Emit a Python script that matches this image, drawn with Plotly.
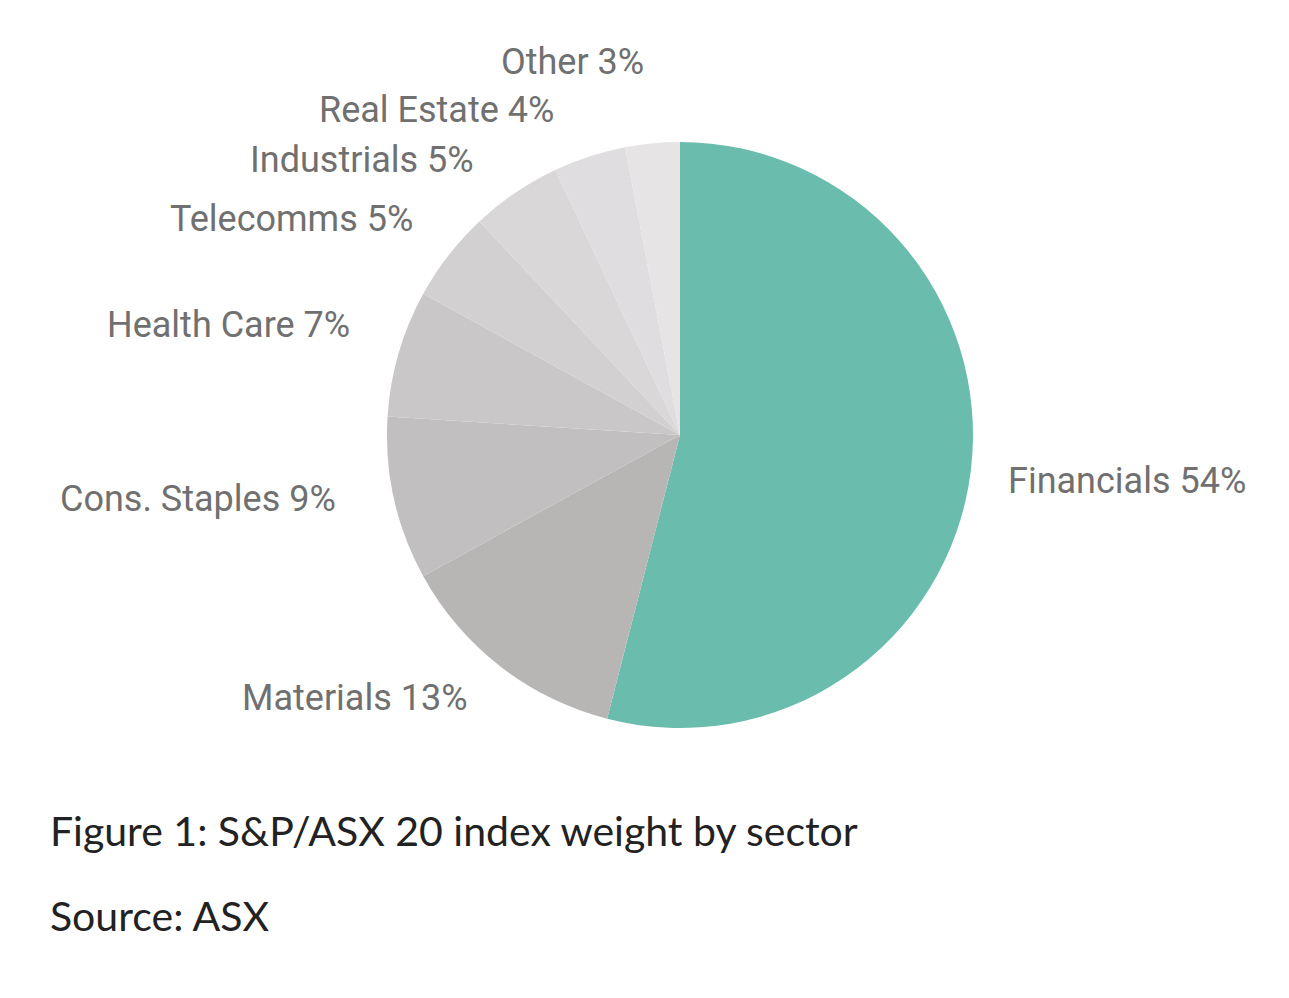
import plotly.graph_objects as go

sectors = ["Financials", "Materials", "Cons. Staples", "Health Care",
           "Telecomms", "Industrials", "Real Estate", "Other"]
weights = [54, 13, 9, 7, 5, 5, 4, 3]
colors = ["#6abcad", "#b8b5b5", "#c2bfc0", "#cac7c8",
          "#d2d0d1", "#d9d7d8", "#dfdddf", "#e6e4e5"]

caption = "Figure 1: S&P/ASX 20 index weight by sector"
source = "Source: ASX"

W, H = 1289, 998
OFF = 8  # page body margin in the browser
cx, cy, r = 680 - OFF, 435 - OFF, 293

# label anchor positions (pixels in the reference): x, y, anchor
label_pos = {
    "Financials": (1006, 481, "left"),
    "Materials": (470, 698, "right"),
    "Cons. Staples": (338, 499, "right"),
    "Health Care": (352, 325, "right"),
    "Telecomms": (415, 219, "right"),
    "Industrials": (476, 160, "right"),
    "Real Estate": (556, 110, "right"),
    "Other": (646, 62, "right"),
}

fig = go.Figure(go.Pie(
    labels=sectors, values=weights, sort=False, direction="clockwise",
    rotation=0, marker=dict(colors=colors, line=dict(width=0)),
    textinfo="none", hoverinfo="label+percent",
    domain=dict(x=[(cx - r) / W, (cx + r) / W], y=[1 - (cy + r) / H, 1 - (cy - r) / H]),
    showlegend=False,
))

for s, v in zip(sectors, weights):
    x, y, anchor = label_pos[s]
    fig.add_annotation(x=(x - OFF) / W, y=1 - (y - OFF) / H, xref="paper", yref="paper",
                       text=f"{s} {v}%", showarrow=False, xanchor=anchor,
                       yanchor="middle",
                       font=dict(family="Roboto", size=36, color="#707070"))

fig.add_annotation(x=(48 - OFF) / W, y=1 - (830 - OFF) / H, xref="paper", yref="paper",
                   text=caption, showarrow=False, xanchor="left", yanchor="middle",
                   font=dict(family="Lato", size=41, color="#222222"))
fig.add_annotation(x=(48 - OFF) / W, y=1 - (915 - OFF) / H, xref="paper", yref="paper",
                   text=source, showarrow=False, xanchor="left", yanchor="middle",
                   font=dict(family="Lato", size=41, color="#222222"))

fig.update_layout(width=W, height=H, margin=dict(l=0, r=0, t=0, b=0),
                  paper_bgcolor="white", plot_bgcolor="white")

fig.write_html("out.html")
